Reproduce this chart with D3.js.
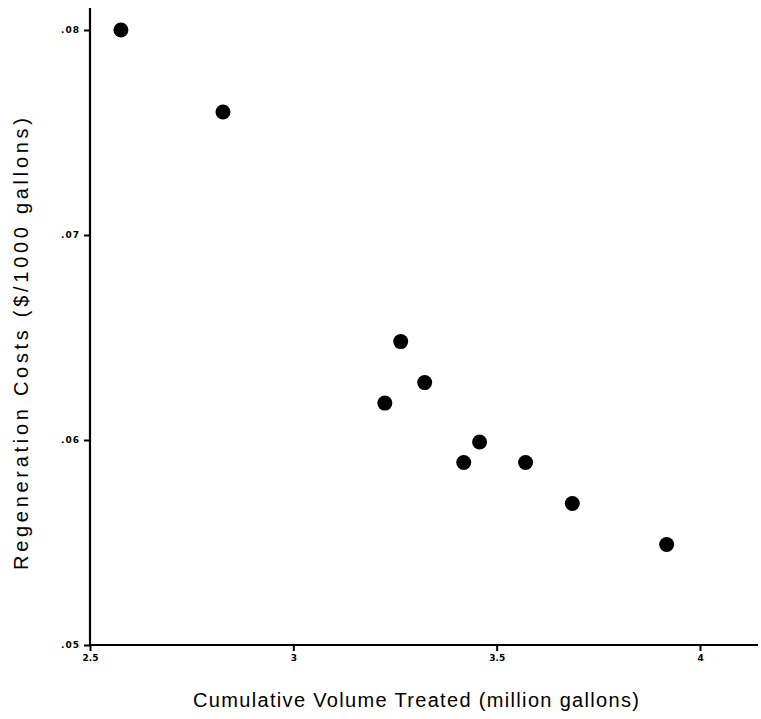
<!DOCTYPE html>
<html><head><meta charset="utf-8">
<script src="https://cdn.jsdelivr.net/npm/d3@7"></script>
<style>body{margin:0;background:#fff}svg{display:block}</style>
</head><body>
<script>
const volume = [2.576, 2.827, 3.264, 3.323, 3.225, 3.458, 3.419, 3.571, 3.686, 3.918];
const cost   = [0.0800, 0.0760, 0.0648, 0.0628, 0.0618, 0.0599, 0.0589, 0.0589, 0.0569, 0.0549];
const xTicks = [2.5, 3, 3.5, 4];
const xTickLabels = ["2.5", "3", "3.5", "4"];
const yTicks = [0.05, 0.06, 0.07, 0.08];
const yTickLabels = [".05", ".06", ".07", ".08"];
const xTitle = "Cumulative Volume Treated (million gallons)";
const yTitle = "Regeneration Costs ($/1000 gallons)";

const W = 761, H = 719;
const svg = d3.select("body").append("svg").attr("width", W).attr("height", H);

const x = d3.scaleLinear().domain([2.5, 4]).range([90, 700]);
const y = d3.scaleLinear().domain([0.05, 0.08]).range([645, 30]);
const xMax = x.invert(758), yMax = y.invert(8);

const g = svg.append("g");
g.append("line").attr("x1", x(2.5)).attr("x2", x(xMax)).attr("y1", y(0.05)).attr("y2", y(0.05))
  .attr("stroke", "#000").attr("stroke-width", 2.2);
g.append("line").attr("x1", x(2.5)).attr("x2", x(2.5)).attr("y1", y(0.05)).attr("y2", y(yMax))
  .attr("stroke", "#000").attr("stroke-width", 2.2);

const xa = svg.append("g").attr("transform", `translate(0,${y(0.05)})`)
  .call(d3.axisBottom(x).tickValues(xTicks).tickSize(6).tickPadding(4)
    .tickFormat((d, i) => xTickLabels[i]));
xa.select(".domain").remove();
xa.selectAll("line").attr("stroke", "#000").attr("stroke-width", 2);
xa.selectAll("text").attr("font-family", "DejaVu Sans").attr("font-weight", "bold")
  .attr("font-size", 9).attr("fill", "#000");

const ya = svg.append("g").attr("transform", `translate(${x(2.5)},0)`)
  .call(d3.axisLeft(y).tickValues(yTicks).tickSize(6).tickPadding(4)
    .tickFormat((d, i) => yTickLabels[i]));
ya.select(".domain").remove();
ya.selectAll("line").attr("stroke", "#000").attr("stroke-width", 2);
ya.selectAll("text").attr("font-family", "DejaVu Sans").attr("font-weight", "bold")
  .attr("font-size", 9).attr("fill", "#000").attr("letter-spacing", 1);

svg.append("g").selectAll("circle").data(volume).join("circle")
  .attr("cx", (d) => x(d)).attr("cy", (d, i) => y(cost[i])).attr("r", 7.5).attr("fill", "#000");

svg.append("text").attr("x", 416).attr("y", 707).attr("text-anchor", "middle")
  .attr("font-family", "Liberation Sans, Arial, sans-serif").attr("font-size", 20)
  .attr("textLength", 446).attr("lengthAdjust", "spacing")
  .attr("fill", "#000").text(xTitle);
svg.append("text").attr("transform", "translate(28,344) rotate(-90)").attr("text-anchor", "middle")
  .attr("font-family", "Liberation Sans, Arial, sans-serif").attr("font-size", 20)
  .attr("textLength", 452).attr("lengthAdjust", "spacing")
  .attr("fill", "#000").text(yTitle);
</script>
</body></html>
